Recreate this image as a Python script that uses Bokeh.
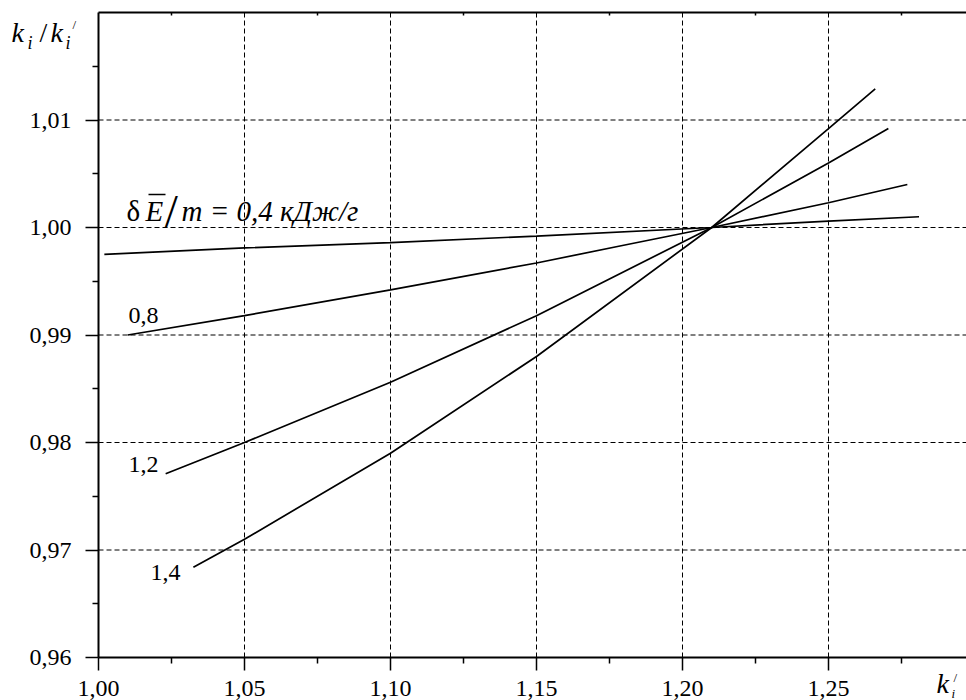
from bokeh.plotting import figure
from bokeh.models import Range1d, FixedTicker, CustomJSTickFormatter, LinearAxis, Label
from bokeh.embed import file_html
from bokeh.resources import INLINE

# ---- data ----
x_ticks = [1.00, 1.05, 1.10, 1.15, 1.20, 1.25]
x_tick_labels = ["1,00", "1,05", "1,10", "1,15", "1,20", "1,25"]
x_minor = [1.025, 1.075, 1.125, 1.175, 1.225, 1.275]
y_ticks = [0.96, 0.97, 0.98, 0.99, 1.00, 1.01]
y_tick_labels = ["0,96", "0,97", "0,98", "0,99", "1,00", "1,01"]
y_minor = [0.965, 0.975, 0.985, 0.995, 1.005, 1.015]
y_top = 1.02

curve_names = ["0,4", "0,8", "1,2", "1,4"]
x_04 = [1.002, 1.05, 1.10, 1.15, 1.21, 1.25, 1.281]
y_04 = [0.9975, 0.9981, 0.9986, 0.9992, 1.0000, 1.0006, 1.0010]
x_08 = [1.010, 1.05, 1.10, 1.15, 1.179, 1.21, 1.25, 1.277]
y_08 = [0.9900, 0.9918, 0.9942, 0.9967, 0.9983, 1.0000, 1.0023, 1.0040]
x_12 = [1.023, 1.05, 1.10, 1.15, 1.21, 1.25, 1.2705]
y_12 = [0.9771, 0.9800, 0.9856, 0.9918, 1.0000, 1.0060, 1.0092]
x_14 = [1.0325, 1.05, 1.10, 1.15, 1.21, 1.25, 1.266]
y_14 = [0.9684, 0.9710, 0.9790, 0.9880, 1.0000, 1.0092, 1.0129]

FONT = "Liberation Serif"

# plot-area geometry in canvas pixels (used only for placement)
L, R, T, B = 98, 966, 12, 657
X0, X1 = x_ticks[0], x_ticks[0] + (R - L) / 2920.0
Y0, Y1 = y_ticks[0], y_top


def px(xp):
    return X0 + (xp - L) * (X1 - X0) / (R - L)


def py(yp):
    return Y0 + (B - yp) * (Y1 - Y0) / (B - T)


p = figure(width=966, height=700, output_backend="svg", toolbar_location=None,
           x_range=Range1d(px(0), px(966)), y_range=Range1d(py(700), py(0)),
           min_border=0, x_axis_location=None, y_axis_location=None)
p.outline_line_color = None
p.background_fill_color = "white"
p.border_fill_color = "white"
p.grid.visible = False

blank = CustomJSTickFormatter(code="return '';")


def style_axis(ax):
    ax.axis_line_width = 2
    ax.axis_line_color = "black"
    ax.major_tick_line_color = "black"
    ax.minor_tick_line_color = "black"
    ax.major_tick_line_width = 1.5
    ax.minor_tick_line_width = 1.5
    ax.major_tick_in = 0
    ax.major_tick_out = 13
    ax.minor_tick_in = 0
    ax.minor_tick_out = 6
    ax.major_label_standoff = 0


xa = LinearAxis(fixed_location=Y0, bounds=(X0, X1),
                ticker=FixedTicker(ticks=x_ticks, minor_ticks=x_minor), formatter=blank)
style_axis(xa)
p.add_layout(xa, "below")

ya = LinearAxis(fixed_location=X0, bounds=(Y0, Y1),
                ticker=FixedTicker(ticks=y_ticks, minor_ticks=y_minor), formatter=blank)
style_axis(ya)
p.add_layout(ya, "left")

top = LinearAxis(fixed_location=Y1, bounds=(X0, X1),
                 ticker=FixedTicker(ticks=[], minor_ticks=x_minor),
                 axis_line_width=2, axis_line_color="black",
                 major_tick_in=0, major_tick_out=0, minor_tick_in=3, minor_tick_out=0,
                 minor_tick_line_color="black", minor_tick_line_width=1.5)
p.add_layout(top, "above")

# tick labels
for xv, t in zip(x_ticks, x_tick_labels):
    p.add_layout(Label(x=xv, y=py(696 - 0.34 * 24), text=t, text_font=FONT,
                       text_font_size="24px", text_color="black",
                       text_align="center", text_baseline="middle"))
for yv, t in zip(y_ticks, y_tick_labels):
    p.add_layout(Label(x=px(71), y=yv, text=t, text_font=FONT,
                       text_font_size="24px", text_color="black",
                       text_align="right", text_baseline="middle"))

# dashed grid inside the plot area
gx = x_ticks[1:]
gy = y_ticks[1:]
p.segment(x0=gx, y0=[Y0] * len(gx), x1=gx, y1=[Y1] * len(gx),
          line_color="black", line_width=1, line_dash="5 3")
p.segment(x0=[X0] * len(gy), y0=gy, x1=[X1] * len(gy), y1=gy,
          line_color="black", line_width=1, line_dash="5 3")

for xs, ys in ((x_04, y_04), (x_08, y_08), (x_12, y_12), (x_14, y_14)):
    p.line(xs, ys, line_color="black", line_width=1.7)


def lab(xp, base, text, size=24, style="normal"):
    # base = desired alphabetic baseline in canvas pixels
    p.add_layout(Label(x=px(xp), y=py(base - 0.34 * size), text=text, text_font=FONT,
                       text_font_size=f"{size}px", text_font_style=style, text_color="black",
                       text_align="left", text_baseline="middle"))


# curve labels
lab(128, 323, curve_names[1])
lab(128, 472, curve_names[2])
lab(150, 580, curve_names[3])

# main annotation: δ E̅ / m = 0,4 кДж/г
lab(126, 220, "δ", size=29)
lab(145, 220, "E", size=29, style="italic")
p.segment(x0=[px(148)], y0=[py(194)], x1=[px(165)], y1=[py(194)], line_color="black", line_width=1.5)
lab(164, 227, "/", size=48)
lab(181, 220, "m = " + curve_names[0] + " кДж/г", size=29, style="italic")

# y title k_i / k_i'
lab(11, 42, "k", size=28, style="italic")
lab(27, 49, "i", size=18, style="italic")
lab(39, 42, "/", size=28)
lab(50, 42, "k", size=28, style="italic")
lab(65, 49, "i", size=18, style="italic")
lab(72, 28, "/", size=13)

# x title k_i'
lab(936, 693, "k", size=28, style="italic")
lab(951, 697, "i", size=13, style="italic")
lab(953, 681, "/", size=13)

open("out.html", "w").write(file_html(p, INLINE))
